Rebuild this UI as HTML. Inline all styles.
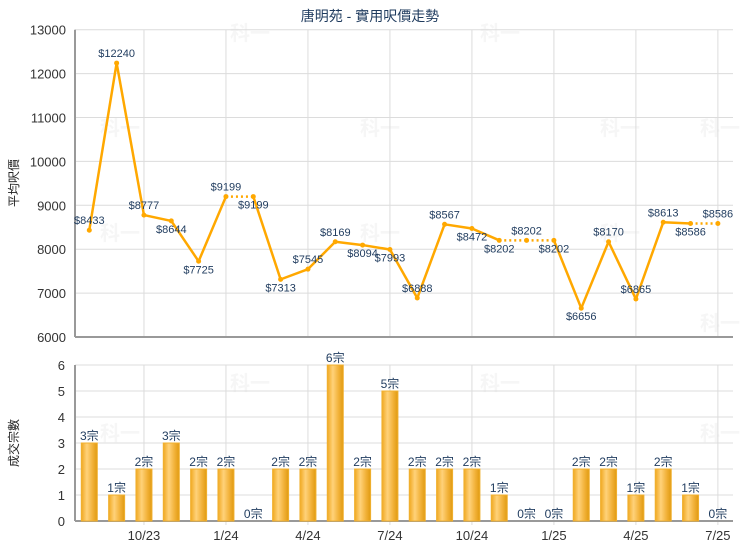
<!DOCTYPE html>
<html><head><meta charset="utf-8"><style>
body{margin:0;background:#fff;}
svg{display:block;font-family:"Liberation Sans","Noto Sans CJK TC",sans-serif;}
</style></head><body>
<svg id="c" width="740" height="550">
<defs>
<linearGradient id="bg" x1="0" x2="1" y1="0" y2="0">
<stop offset="0" stop-color="#f0a820"/><stop offset="0.35" stop-color="#ffd27a"/><stop offset="0.7" stop-color="#f2b23a"/><stop offset="1" stop-color="#e09a10"/>
</linearGradient>
</defs>
<text x="370" y="21" text-anchor="middle" font-size="14" fill="#1f3b5e">唐明苑 - 實用呎價走勢</text>
<text transform="translate(18,183) rotate(-90)" text-anchor="middle" font-size="12" fill="#222">平均呎價</text>
<text transform="translate(18,443) rotate(-90)" text-anchor="middle" font-size="12" fill="#222">成交宗數</text>
<g id="g"></g>
</svg>
<script>
const months = ["8/23","9/23","10/23","11/23","12/23","1/24","2/24","3/24","4/24","5/24","6/24","7/24","8/24","9/24","10/24","11/24","12/24","1/25","2/25","3/25","4/25","5/25","6/25","7/25"];
const prices = [8433,12240,8777,8644,7725,9199,9199,7313,7545,8169,8094,7993,6888,8567,8472,8202,8202,8202,6656,8170,6865,8613,8586,8586];
const counts = [3,1,2,3,2,2,0,2,2,6,2,5,2,2,2,1,0,0,2,2,1,2,1,0];
const priceTicks = [6000,7000,8000,9000,10000,11000,12000,13000];
const countTicks = [0,1,2,3,4,5,6];
const xLabels = ["10/23","1/24","4/24","7/24","10/24","1/25","4/25","7/25"];
const labelAbove = [1,1,1,0,0,1,0,0,1,1,0,0,1,1,0,0,1,0,0,1,1,1,0,1];

const NS="http://www.w3.org/2000/svg";
const g=document.getElementById('g');
function el(t,a,txt){const e=document.createElementNS(NS,t);for(const k in a)e.setAttribute(k,a[k]);if(txt!==undefined)e.textContent=txt;g.appendChild(e);return e;}
const L=75,R=733;
const x=i=>89.3+i*27.33;
const yP=v=>337-(v-6000)*43.9/1000;
const yC=v=>521-v*26;

[[100,135],[100,240],[100,440],[230,40],[230,390],[360,135],[360,240],[480,40],[480,390],[600,135],[600,240],[700,135],[700,330],[700,440]].forEach(p=>{
const t=el('text',{x:p[0],y:p[1],'font-size':20,'font-weight':'bold',fill:'#f6f6f6'},'科一');


});

priceTicks.forEach(v=>{
const ln=el('line',{x1:L,x2:R,y1:yP(v),y2:yP(v),stroke:'#dcdcdc'});


const t=el('text',{x:L-9,y:yP(v)+5,'text-anchor':'end','font-size':13,fill:'#333'},v);


});
countTicks.forEach(v=>{
const ln=el('line',{x1:L,x2:R,y1:yC(v),y2:yC(v),stroke:'#dcdcdc'});


const t=el('text',{x:L-10,y:yC(v)+5,'text-anchor':'end','font-size':13,fill:'#333'},v);


});
xLabels.forEach(m=>{
const i=months.indexOf(m);const xx=x(i);
const a=el('line',{x1:xx,x2:xx,y1:yP(13000),y2:yP(6000),stroke:'#dcdcdc'});


const b=el('line',{x1:xx,x2:xx,y1:yC(6),y2:yC(0)+4,stroke:'#dcdcdc'});


const t=el('text',{x:xx,y:540,'text-anchor':'middle','font-size':13,fill:'#333'},m);


});
[[L,yP(13000),L,yP(6000)],[L,yP(6000),R,yP(6000)],[L,yC(6),L,yC(0)],[L,yC(0),R,yC(0)]].forEach(a=>{
const ln=el('line',{x1:a[0],y1:a[1],x2:a[2],y2:a[3],stroke:'#999','stroke-width':2});


});

for(let i=1;i<prices.length;i++){
const s=el('line',{x1:x(i-1),y1:yP(prices[i-1]),x2:x(i),y2:yP(prices[i]),stroke:'#ffa800','stroke-width':2.5});
if(counts[i]===0)s.setAttribute('stroke-dasharray','2,3');


}
prices.forEach((v,i)=>{
const c=el('circle',{cx:x(i),cy:yP(v),r:2.5,fill:'#ffa800'});


const t=el('text',{x:x(i),y:yP(v)+(labelAbove[i]?-6:12),'text-anchor':'middle','font-size':11,fill:'#1f3b5e'},'$'+v);


});
counts.forEach((v,i)=>{
if(v>0){
const r=el('rect',{x:x(i)-8,y:yC(v),width:16,height:yC(0)-yC(v),fill:'url(#bg)',stroke:'#f0b030','stroke-width':1});


}
const t=el('text',{x:x(i),y:yC(v)-3,'text-anchor':'middle','font-size':12,fill:'#1f3b5e'},v+'宗');


});
</script>
</body></html>
